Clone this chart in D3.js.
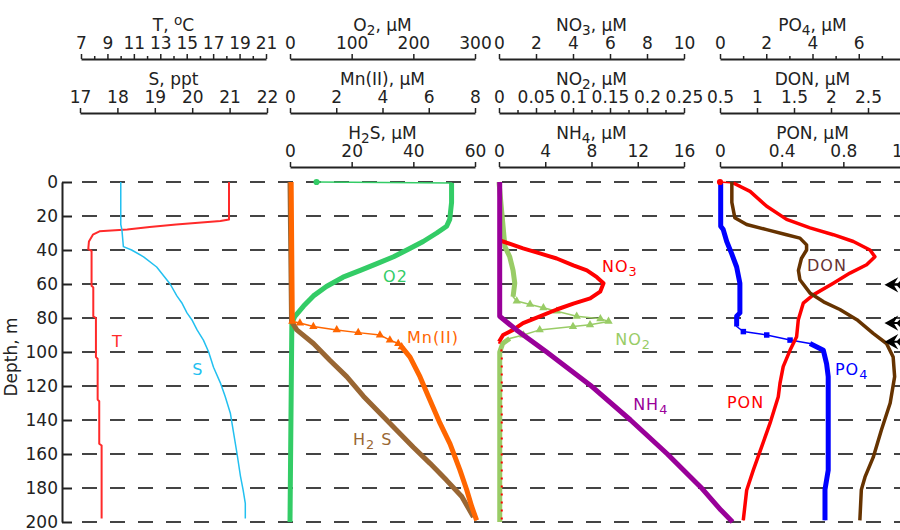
<!DOCTYPE html>
<html>
<head>
<meta charset="utf-8">
<script src="https://cdn.jsdelivr.net/npm/d3@7"></script>
<style>
  body { margin: 0; background: #fff; }
  svg text { font-family: "DejaVu Sans", "Liberation Sans", sans-serif; }
</style>
</head>
<body>
<svg id="chart" width="900" height="530"></svg>
<script>
// depth grid
const depthTicks = [0, 20, 40, 60, 80, 100, 120, 140, 160, 180, 200];

// temperature, salinity
const tDepth = [0, 22, 23, 25, 26.5, 28, 29, 31, 35, 39.5, 40.5, 61, 62, 79, 80, 103, 104, 128, 129, 154, 155, 198];
const tVal = [18.2, 18.2, 17.55, 14.2, 12.2, 10.5, 8.4, 7.9, 7.6, 7.55, 7.8, 7.8, 7.93, 7.93, 8.13, 8.13, 8.26, 8.26, 8.38, 8.38, 8.56, 8.56];
const sDepth = [0, 25, 28, 38, 40, 44, 50, 60, 67, 71, 77, 81, 87, 93, 100, 109, 118, 126, 136, 148, 160, 173, 181, 189, 198];
const sVal = [18.09, 18.09, 18.12, 18.16, 18.38, 18.7, 19.05, 19.41, 19.59, 19.72, 19.86, 19.99, 20.13, 20.3, 20.44, 20.57, 20.75, 20.88, 21.02, 21.11, 21.2, 21.29, 21.36, 21.42, 21.42];

// O2, Mn(II), H2S
const o2Depth = [0, 0.6, 12, 22, 26, 30, 35, 39, 44, 48, 52, 56, 61.5, 67, 73, 79, 83, 200];
const o2Val = [43, 262, 262, 259, 254, 238, 216, 195, 168, 141, 114, 86, 59, 38, 22, 8, 3, 0];
const mnDepth = [0, 82, 83, 85, 87, 88.6, 90, 93, 95, 97, 103, 114.5, 126, 142, 154, 169.5, 181, 191, 199];
const mnVal = [0.05, 0.1, 0.43, 1.01, 2.02, 2.95, 3.89, 4.32, 4.68, 4.83, 5.19, 5.62, 5.98, 6.49, 6.92, 7.35, 7.64, 7.86, 8.07];
const h2sDepth = [0, 82, 87, 95, 105, 114.5, 126, 136, 146, 156, 165.5, 175.5, 185, 197];
const h2sVal = [0, 0.5, 2.2, 7.6, 13, 18.4, 23.8, 29.2, 34.6, 40, 45.4, 50.8, 55.7, 59.5];

// NO3, NO2, NH4
const no3Depth = [0, 34, 35, 39, 42, 45, 49, 52, 56, 59.5, 64.5, 68.5, 71.5, 75, 79, 83, 87, 90, 94, 100, 200];
const no3Val = [0, 0, 0.22, 1.3, 2.21, 3.12, 4.02, 4.75, 5.29, 5.65, 5.47, 4.93, 4.02, 3.12, 2.21, 1.3, 0.76, 0.22, 0, 0.15, 0.15];
const no2Depth = [0, 38, 44, 52, 59.5, 67.5, 70, 72, 74, 76, 79, 80.5, 82, 84, 85, 87, 90, 92, 95, 100, 200];
const no2Val = [0, 0.008, 0.0145, 0.019, 0.0213, 0.019, 0.024, 0.042, 0.06, 0.078, 0.105, 0.137, 0.148, 0.123, 0.1, 0.055, 0.033, 0.0145, 0.005, 0.001, 0.001];
const nh4Depth = [0, 79, 87, 100, 119.5, 140, 160, 179.5, 193, 200];
const nh4Val = [0.06, 0.06, 1.51, 4.12, 7.89, 11.37, 14.56, 17.45, 19.19, 20.2];

// PO4, DON, PON
const po4Depth = [0, 26, 28, 35, 42, 50, 59.5, 77, 79, 85, 88, 90, 93, 95, 99, 107, 114.5, 169.5, 181, 199];
const po4Val = [0.03, 0.03, 0.14, 0.29, 0.5, 0.72, 0.86, 0.86, 0.72, 0.72, 1.01, 2.02, 3.03, 3.89, 4.47, 4.61, 4.68, 4.68, 4.54, 4.54];
const donDepth = [0, 12, 21, 25, 28, 31, 33, 37, 40, 45, 52, 57.5, 65.5, 70.5, 75, 81, 89, 95, 103, 114.5, 130, 146, 162, 173.5, 181, 199];
const donVal = [0.66, 0.66, 0.7, 0.86, 1.13, 1.4, 1.58, 1.67, 1.67, 1.6, 1.56, 1.58, 1.72, 1.9, 2.12, 2.35, 2.57, 2.75, 2.84, 2.86, 2.8, 2.68, 2.57, 2.46, 2.41, 2.39];
const ponDepth = [0, 0.6, 5.5, 14.3, 22, 27, 31, 35, 40, 44, 48.7, 53.6, 59.5, 66.4, 71.3, 81, 91, 99, 108.6, 118.5, 126.3, 142, 155.8, 169.5, 181.3, 199];
const ponVal = [0, 0.086, 0.195, 0.303, 0.432, 0.584, 0.735, 0.865, 0.973, 1.005, 0.951, 0.843, 0.735, 0.605, 0.54, 0.508, 0.497, 0.454, 0.41, 0.389, 0.378, 0.324, 0.27, 0.216, 0.173, 0.151];

// arrows on the right edge
const arrowDepth = [60.5, 83, 94];

// top axis ticks
const tTicks = [7, 9, 11, 13, 15, 17, 19, 21];
const tMinor = [8, 10, 12, 14, 16, 18, 20];
const sTicks = [17, 18, 19, 20, 21, 22];
const o2Ticks = [0, 100, 200, 300];
const mnTicks = [0, 2, 4, 6, 8];
const h2sTicks = [0, 20, 40, 60];
const no3Ticks = [0, 2, 4, 6, 8, 10];
const no2Ticks = [0, 0.05, 0.1, 0.15, 0.2, 0.25];
const no2Minor = [0.025, 0.075, 0.125, 0.175, 0.225];
const nh4Ticks = [0, 4, 8, 12, 16];
const po4Ticks = [0, 2, 4, 6, 8];
const po4Minor = [1, 3, 5, 7];
const donTicks = [0.5, 1, 1.5, 2, 2.5, 3];
const ponTicks = [0, 0.4, 0.8, 1.2];

let svg = d3.select("#chart");

let y = d3.scaleLinear().domain([0, 200]).range([182, 522]);
let p2 = [290, 475], p3 = [499, 684], p4 = [720, 905];
let xT = d3.scaleLinear().domain([7, 21]).range([81, 266]);
let xS = d3.scaleLinear().domain([17, 22]).range([80, 267]);
let xO2 = d3.scaleLinear().domain([0, 300]).range(p2);
let xMn = d3.scaleLinear().domain([0, 8]).range(p2);
let xH2S = d3.scaleLinear().domain([0, 60]).range(p2);
let xNO3 = d3.scaleLinear().domain([0, 10]).range(p3);
let xNO2 = d3.scaleLinear().domain([0, 0.25]).range(p3);
let xNH4 = d3.scaleLinear().domain([0, 16]).range(p3);
let xPO4 = d3.scaleLinear().domain([0, 8]).range(p4);
let xDON = d3.scaleLinear().domain([0.5, 3]).range(p4);
let xPON = d3.scaleLinear().domain([0, 1.2]).range(p4);

let rowY = [59, 113, 167];

// text with _x subscript and ^x superscript
function richText(sel, str) {
  let re = /([_^])(.)/g, last = 0, m, shift = 0;
  function add(txt, dy, small) {
    let ts = sel.append("tspan").text(txt);
    if (dy) ts.attr("dy", dy);
    if (small) ts.attr("font-size", "0.8em");
  }
  while ((m = re.exec(str))) {
    if (m.index > last) {
      add(str.slice(last, m.index), -shift);
      shift = 0;
    }
    let sh = m[1] == "_" ? 4 : -6;
    add(m[2], sh - shift, true);
    shift = sh;
    last = m.index + 2;
  }
  if (last < str.length) add(str.slice(last), -shift);
}

function topAxis(scale, ticks, minor, row, title) {
  let g = svg.append("g").attr("transform", `translate(0,${rowY[row]})`);
  if (minor) {
    let mg = g.append("g").call(d3.axisTop(scale).tickValues(minor).tickSize(3).tickFormat(""));
    mg.select(".domain").remove();
    mg.selectAll("line").attr("stroke", "#222").attr("stroke-width", 1.5);
  }
  let ag = g.append("g")
    .call(d3.axisTop(scale).tickValues(ticks).tickSize(5).tickSizeOuter(0).tickPadding(5).tickFormat(d => d));
  ag.attr("font-family", null).attr("font-size", null);
  ag.select(".domain").attr("stroke", "#222").attr("stroke-width", 2);
  ag.selectAll(".tick line").attr("stroke", "#222").attr("stroke-width", 1.5);
  ag.selectAll(".tick text").attr("font-size", 17).attr("fill", "#222");
  let r = scale.range();
  let t = g.append("text")
    .attr("x", (r[0] + r[1]) / 2)
    .attr("y", -28)
    .attr("text-anchor", "middle")
    .attr("font-size", 17)
    .attr("fill", "#222");
  richText(t, title);
}

topAxis(xT, tTicks, tMinor, 0, "T, ^oC");
topAxis(xS, sTicks, null, 1, "S, ppt");
topAxis(xO2, o2Ticks, null, 0, "O_2, µM");
topAxis(xMn, mnTicks, null, 1, "Mn(II), µM");
topAxis(xH2S, h2sTicks, null, 2, "H_2S, µM");
topAxis(xNO3, no3Ticks, null, 0, "NO_3, µM");
topAxis(xNO2, no2Ticks, no2Minor, 1, "NO_2, µM");
topAxis(xNH4, nh4Ticks, null, 2, "NH_4, µM");
topAxis(xPO4, po4Ticks, po4Minor, 0, "PO_4, µM");
topAxis(xDON, donTicks, null, 1, "DON, µM");
topAxis(xPON, ponTicks, null, 2, "PON, µM");

// dashed depth grid
svg.append("g").selectAll("line")
  .data(depthTicks)
  .enter()
  .append("line")
  .attr("x1", 82).attr("x2", 900)
  .attr("y1", d => y(d)).attr("y2", d => y(d))
  .attr("stroke", "#444")
  .attr("stroke-width", 2)
  .attr("stroke-dasharray", "15,13");

// depth axis
let da = svg.append("g").attr("transform", "translate(62,0)")
  .call(d3.axisLeft(y).tickValues(depthTicks).tickSize(-10).tickSizeOuter(0).tickPadding(4));
da.attr("font-family", null).attr("font-size", null);
da.select(".domain").attr("stroke", "#222").attr("stroke-width", 2);
da.selectAll(".tick line").attr("stroke", "#222").attr("stroke-width", 2);
da.selectAll(".tick text").attr("font-size", 17).attr("fill", "#222");

svg.append("text")
  .attr("transform", "translate(17,357) rotate(-90)")
  .attr("text-anchor", "middle")
  .attr("font-size", 17)
  .attr("fill", "#222")
  .text("Depth, m");

function drawSeries(xs, depths, vals, color, width, opts) {
  opts = opts || {};
  let pts = depths.map((d, i) => ({ d: d, v: vals[i] }));
  let line = d3.line().x(p => xs(p.v)).y(p => y(p.d));
  let g = svg.append("g");
  if (opts.thin) {
    let a = opts.thin[0], b = opts.thin[1];
    g.append("path").attr("d", line(pts)).attr("fill", "none")
      .attr("stroke", color).attr("stroke-width", 1.5);
    g.append("path")
      .attr("d", line.defined(p => !(p.d > a && p.d < b))(pts))
      .attr("fill", "none").attr("stroke", color)
      .attr("stroke-width", width).attr("stroke-linejoin", "round");
    if (opts.marker) {
      g.selectAll(".mk")
        .data(pts.filter(p => p.d >= a && p.d <= b))
        .enter()
        .append("path")
        .attr("d", d3.symbol().type(opts.marker).size(30))
        .attr("transform", p => `translate(${xs(p.v)},${y(p.d)})`)
        .attr("fill", color);
    }
  } else if (opts.solid) {
    let a = opts.solid[0], b = opts.solid[1];
    g.append("path").attr("d", line(pts)).attr("fill", "none")
      .attr("stroke", color).attr("stroke-width", 2).attr("stroke-dasharray", "2,6");
    g.append("path")
      .attr("d", line.defined(p => p.d >= a && p.d <= b)(pts))
      .attr("fill", "none").attr("stroke", color)
      .attr("stroke-width", width).attr("stroke-linejoin", "round");
  } else {
    g.append("path").attr("d", line(pts)).attr("fill", "none")
      .attr("stroke", color).attr("stroke-width", width)
      .attr("stroke-linejoin", "round");
  }
}

drawSeries(xT, tDepth, tVal, "#ff2a2a", 2);
drawSeries(xS, sDepth, sVal, "#22c0f0", 1.5);

drawSeries(xO2, o2Depth, o2Val, "#33cc66", 5, { thin: [-1, 0.5], marker: d3.symbolCircle });
drawSeries(xH2S, h2sDepth, h2sVal, "#996633", 5);
drawSeries(xMn, mnDepth, mnVal, "#ff6600", 5, { thin: [82, 97], marker: d3.symbolTriangle });

drawSeries(xNO2, no2Depth, no2Val, "#99cc66", 5, { thin: [68, 91], marker: d3.symbolTriangle });
drawSeries(xNO3, no3Depth, no3Val, "#ff0000", 4, { solid: [34, 94] });
drawSeries(xNH4, nh4Depth, nh4Val, "#990099", 5);

drawSeries(xPO4, po4Depth, po4Val, "#0000ff", 5, { thin: [86, 94.5], marker: d3.symbolSquare });
drawSeries(xPON, ponDepth, ponVal, "#ff0000", 3.5, { thin: [-1, 0.5], marker: d3.symbolCircle });
drawSeries(xDON, donDepth, donVal, "#663300", 3.5);

// series labels
function label(xs, v, d, str, color) {
  let t = svg.append("text")
    .attr("x", xs(v)).attr("y", y(d))
    .attr("font-size", 16)
    .attr("letter-spacing", 1)
    .attr("fill", color);
  richText(t, str);
}
label(xT, 9.35, 97, "T", "#ff2a2a");
label(xS, 20.0, 113.5, "S", "#22c0f0");
label(xO2, 151, 58.8, "O2", "#33cc66");
label(xMn, 5.06, 94.7, "Mn(II)", "#ff6600");
label(xH2S, 20.4, 154.7, "H_2 S", "#996633");
label(xNO3, 5.57, 52.9, "NO_3", "#ff0000");
label(xNO2, 0.157, 95.9, "NO_2", "#99cc66");
label(xNH4, 11.6, 134.1, "NH_4", "#990099");
label(xDON, 1.676, 52.4, "DON", "#663333");
label(xPO4, 4.97, 113.5, "PO_4", "#0000ff");
label(xPON, 0.045, 132.9, "PON", "#ff0000");

// arrows pointing at the DON profile
let ax = xDON(2.75);
svg.append("g").selectAll("path")
  .data(arrowDepth)
  .enter()
  .append("path")
  .attr("d", d => `M${ax},${y(d)} l9,-5 l-3,5 l3,5 z M${ax + 6},${y(d)} h14 M${ax + 11},${y(d)} l4,-4 M${ax + 11},${y(d)} l4,4`)
  .attr("fill", "#000")
  .attr("stroke", "#000")
  .attr("stroke-width", 2);
</script>
</body>
</html>
